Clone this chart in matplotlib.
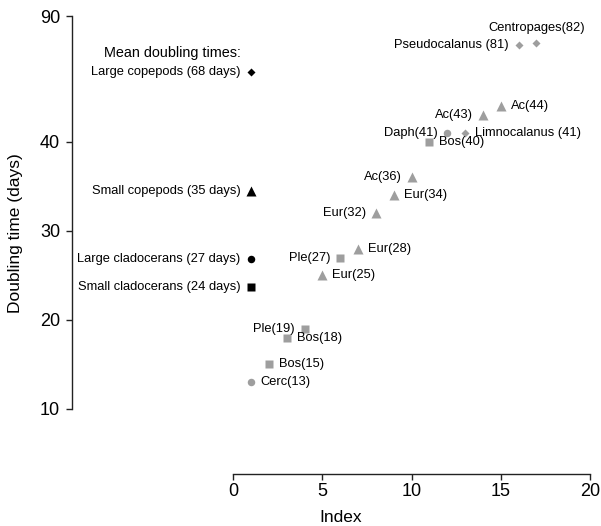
import numpy as np
import matplotlib
matplotlib.use("Agg")
import matplotlib.pyplot as plt

plt.rcParams['font.family'] = ['Liberation Sans', 'DejaVu Sans']

# ---- data ----
index = [1, 2, 3, 4, 5, 6, 7, 8, 9, 10, 11, 12, 13, 14, 15, 16, 17]
doubling = [13, 15, 18, 19, 25, 27, 28, 32, 34, 36, 40, 41, 41, 43, 44, 81, 82]
labels = ["Cerc(13)", "Bos(15)", "Bos(18)", "Ple(19)", "Eur(25)", "Ple(27)",
          "Eur(28)", "Eur(32)", "Eur(34)", "Ac(36)", "Bos(40)", "Daph(41)",
          "Limnocalanus (41)", "Ac(43)", "Ac(44)", "Pseudocalanus (81)",
          "Centropages(82)"]
groups = ["lc", "sc", "sc", "sc", "sp", "sc", "sp", "sp", "sp", "sp", "sc", "lc",
          "lp", "sp", "sp", "lp", "lp"]
sides = ["r", "r", "r", "l", "r", "l", "r", "l", "r", "l", "r", "l",
         "r", "l", "r", "l", "t"]

mean_labels = ["Large copepods (68 days)", "Small copepods (35 days)",
               "Large cladocerans (27 days)", "Small cladocerans (24 days)"]
mean_values = [68, 34.5, 26.8, 23.7]
mean_groups = ["lp", "sp", "lc", "sc"]
mean_index = 1
mean_title = "Mean doubling times:"

xticks = [0, 5, 10, 15, 20]
yticks = [10, 20, 30, 40, 90]

# broken (compressed) y-axis above 44 days
scale_vals = [-100, 44, 68, 81, 82, 90, 200]
scale_pos = [-100, 44.04, 47.9, 50.9, 51.16, 54.16, 93.3]

def fwd(v):
    return np.interp(v, scale_vals, scale_pos)

def inv(p):
    return np.interp(p, scale_pos, scale_vals)

markers = {"lc": ("o", 5.4), "sc": ("s", 5.4), "sp": ("^", 7.0), "lp": ("D", 3.6)}
gray = "#9e9e9e"

fig = plt.figure(figsize=(6.01, 5.26), dpi=100)
ax = fig.add_axes([71.7 / 601, (526 - 474) / 526, (590 - 71.7) / 601, (474 - 16) / 526])
ax.set_yscale('function', functions=(fwd, inv))
ax.set_xlim(-9.06, 20)
ax.set_ylim(2.70, 90)

for g in ["lc", "sc", "sp", "lp"]:
    xs = [i for i, gg in zip(index, groups) if gg == g]
    ys = [d for d, gg in zip(doubling, groups) if gg == g]
    m, ms = markers[g]
    ax.plot(xs, ys, linestyle='none', marker=m, ms=ms, color=gray, mec='none', clip_on=False)

for x, y, lab, s in zip(index, doubling, labels, sides):
    if s == "r":
        ax.annotate(lab, (x, y), xytext=(7, 0), textcoords='offset points',
                    ha='left', va='center', fontsize=9.3)
    elif s == "l":
        ax.annotate(lab, (x, y), xytext=(-7, 0), textcoords='offset points',
                    ha='right', va='center', fontsize=9.3)
    else:
        ax.annotate(lab, (x, y), xytext=(0, 10.4), textcoords='offset points',
                    ha='center', va='center', fontsize=9.3)

for lab, v, g in zip(mean_labels, mean_values, mean_groups):
    m, ms = markers[g]
    ax.plot([mean_index], [v], linestyle='none', marker=m, ms=ms, color='black', mec='none')
    ax.annotate(lab, (mean_index, v), xytext=(-7.5, 0), textcoords='offset points',
                ha='right', va='center', fontsize=9.3)

ax.annotate(mean_title, (mean_index, mean_values[0]), xytext=(-7.5, 13.7),
            textcoords='offset points', ha='right', va='center', fontsize=10.4)

for sp in ['top', 'right']:
    ax.spines[sp].set_visible(False)
ax.spines['left'].set_bounds(10, 90)
ax.spines['bottom'].set_bounds(0, 20)
for sp in ['left', 'bottom']:
    ax.spines[sp].set_linewidth(1.0)
    ax.spines[sp].set_color('#222222')

ax.set_xticks(xticks)
ax.set_yticks(yticks)
ax.set_yticklabels([str(t) for t in yticks])
ax.set_xticklabels([str(t) for t in xticks])
ax.yaxis.set_minor_locator(matplotlib.ticker.NullLocator())
ax.tick_params(axis='y', length=4.3, width=1.0, pad=4.0, labelsize=13, color='#222222')
ax.tick_params(axis='x', length=4.3, width=1.0, pad=2.5, labelsize=13, color='#222222')

ax.set_xlabel("Index", fontsize=12.5)
ax.xaxis.set_label_coords((341 - 71.7) / (590 - 71.7), -(518 - 474) / 458)
ax.xaxis.label.set_va('center')
ax.set_ylabel("Doubling time (days)", fontsize=12.5)
ax.yaxis.set_label_coords((15 - 71.7) / (590 - 71.7), (474 - 233.5) / 458)
ax.yaxis.label.set_va('center')

fig.savefig("out.png", dpi=100)
